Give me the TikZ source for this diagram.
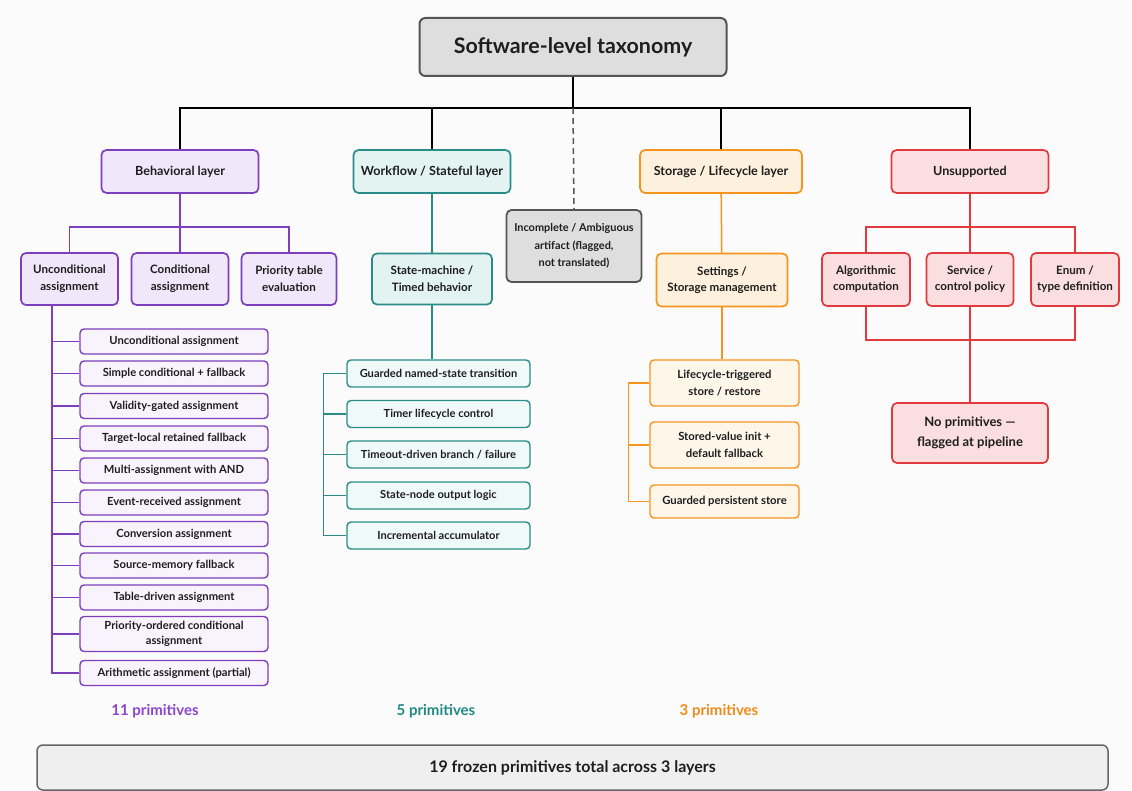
\documentclass[tikz,border=0pt]{standalone}
\usepackage{fontspec}
\setmainfont{Lato Bold}[BoldFont={Lato Bold}]
\usetikzlibrary{calc}

\definecolor{ink}{HTML}{1E1E1E}
\definecolor{bg}{HTML}{FBFBFB}
\definecolor{purp}{HTML}{7E3FBF}
\definecolor{purpfill}{HTML}{F1E7FB}
\definecolor{purpitem}{HTML}{F8F3FD}
\definecolor{purptext}{HTML}{8A44D0}
\definecolor{teal}{HTML}{2A8C88}
\definecolor{tealfill}{HTML}{E2F3F1}
\definecolor{tealitem}{HTML}{EFF9F7}
\definecolor{tealtext}{HTML}{1F8A84}
\definecolor{orng}{HTML}{F7941D}
\definecolor{orngfill}{HTML}{FDF0DC}
\definecolor{orngitem}{HTML}{FFF6EA}
\definecolor{orngtext}{HTML}{F28A1A}
\definecolor{redd}{HTML}{E03A3E}
\definecolor{reddfill}{HTML}{FBDEDF}
\definecolor{grayline}{HTML}{555555}
\definecolor{grayfill}{HTML}{DEDEDE}
\definecolor{totfill}{HTML}{EFEFEF}

\tikzset{
  x=1pt, y=-1pt,
  sz/.style 2 args={minimum width=#1pt, minimum height=#2pt},
  box/.style={draw, rounded corners=5pt, line width=1.7pt, align=center,
    inner sep=2pt, text=ink, font=\fontsize{11.6}{17}\selectfont},
  layerbox/.style={box, font=\fontsize{12.6}{16}\selectfont},
  itembox/.style={box, line width=1.4pt, rounded corners=4pt,
    font=\fontsize{11.1}{15}\selectfont},
  behbox/.style={layerbox, draw=purp, fill=purpfill},
  behsub/.style={box, draw=purp, fill=purpfill},
  behitem/.style={itembox, draw=purp, fill=purpitem, sz={188}{25},
    font=\fontsize{11.2}{15.5}\selectfont},
  wfbox/.style={layerbox, draw=teal, fill=tealfill},
  wfsub/.style={box, draw=teal, fill=tealfill},
  wfitem/.style={itembox, draw=teal, fill=tealitem, sz={183}{27}},
  stbox/.style={layerbox, draw=orng, fill=orngfill},
  stsub/.style={box, draw=orng, fill=orngfill, font=\fontsize{11.6}{16.5}\selectfont},
  stitem/.style={itembox, draw=orng, fill=orngitem,
    font=\fontsize{11.3}{17}\selectfont},
  unbox/.style={layerbox, draw=redd, fill=reddfill},
  unsub/.style={box, draw=redd, fill=reddfill, font=\fontsize{11.6}{16}\selectfont},
  conn/.style={line width=1.5pt},
  count/.style={font=\fontsize{15}{18}\selectfont},
}

\begin{document}
\begin{tikzpicture}
% canvas
\fill[bg] (0,0) rectangle (1132,791);
\useasboundingbox (0,0) rectangle (1132,791);

% root
\node[box, draw=grayline, fill=grayfill, line width=2pt, rounded corners=6pt,
  sz={307}{58}, font=\fontsize{21.4}{24}\selectfont] (title) at (573,47)
  {Software-level taxonomy};

% layers
\node[behbox, sz={157}{43}] (beh) at (180,171.5) {Behavioral layer};
\node[wfbox, sz={157}{43}] (wf) at (432,171.5) {Workflow / Stateful layer};
\node[stbox, sz={162}{43}] (st) at (721,171.5) {Storage / Lifecycle layer};
\node[unbox, sz={157}{43}] (un) at (970,171.5) {Unsupported};
\node[box, draw=grayline, fill=grayfill, line width=1.8pt, sz={135}{72},
  font=\fontsize{10.9}{17.5}\selectfont] (inc) at (574,246)
  {Incomplete / Ambiguous\\artifact (flagged,\\not translated)};

% root connectors
\draw[conn] (title.south) -- ++(0,31) coordinate (bus);
\draw[conn] (bus) -| (beh.north);
\draw[conn] (bus) -| (wf.north);
\draw[conn] (bus) -| (st.north);
\draw[conn] (bus) -| (un.north);
\draw[conn, dashed, dash pattern=on 6pt off 4pt, grayline] (bus) -- (inc.north);

% behavioral layer
\node[behsub, sz={97}{52}] (bu) at (69.5,279) {Unconditional\\assignment};
\node[behsub, sz={97}{52}] (bc) at (180,279) {Conditional\\assignment};
\node[behsub, sz={95}{52}] (bp) at (289,279) {Priority table\\evaluation};
\draw[conn, purp] (beh.south) -- ++(0,33) coordinate (bb);
\draw[conn, purp] (bb) -| (bu.north);
\draw[conn, purp] (bb) -- (bc.north);
\draw[conn, purp] (bb) -| (bp.north);

\node[behitem] (b1) at (174,341.5) {Unconditional assignment};
\node[behitem] (b2) at (174,373.5) {Simple conditional + fallback};
\node[behitem] (b3) at (174,406) {Validity-gated assignment};
\node[behitem] (b4) at (174,438.5) {Target-local retained fallback};
\node[behitem] (b5) at (174,470.5) {Multi-assignment with AND};
\node[behitem] (b6) at (174,502.5) {Event-received assignment};
\node[behitem] (b7) at (174,534) {Conversion assignment};
\node[behitem] (b8) at (174,565.5) {Source-memory fallback};
\node[behitem] (b9) at (174,597.5) {Table-driven assignment};
\node[behitem, sz={188}{35}] (b10) at (174,634) {Priority-ordered conditional\\assignment};
\node[behitem] (b11) at (174,673) {Arithmetic assignment (partial)};
\foreach \i in {1,...,11}{
  \draw[conn, purp] ([xshift=-17.5pt]bu.south) |- (b\i.west);
}

% workflow layer
\node[wfsub, sz={120}{51}] (sm) at (432,279) {State-machine /\\Timed behavior};
\draw[conn, teal] (wf) -- (sm);
\node[wfitem] (w1) at (438.5,373.5) {Guarded named-state transition};
\node[wfitem] (w2) at (438.5,414) {Timer lifecycle control};
\node[wfitem] (w3) at (438.5,454.5) {Timeout-driven branch / failure};
\node[wfitem] (w4) at (438.5,495.5) {State-node output logic};
\node[wfitem] (w5) at (438.5,535.5) {Incremental accumulator};
\draw[conn, teal] (sm.south) -- (sm.south |- w1.north);
\draw[conn, teal] (w1.west) -- ++(-23,0) coordinate (wsp) |- (w5.west);
\foreach \i in {2,3,4}{
  \draw[conn, teal] (wsp |- w\i.west) -- (w\i.west);
}

% storage layer
\node[stsub, sz={131}{53}] (set) at (722,280) {Settings /\\Storage management};
\draw[conn, orng] (st) -- (set);
\node[stitem, sz={149}{46}] (s1) at (724.5,383) {Lifecycle-triggered\\store / restore};
\node[stitem, sz={149}{46}] (s2) at (724.5,445) {Stored-value init +\\default fallback};
\node[stitem, sz={149}{33}] (s3) at (724.5,501.5) {Guarded persistent store};
\draw[conn, orng] (set.south) -- (set.south |- s1.north);
\draw[conn, orng] (s1.west) -- ++(-21,0) coordinate (ssp) |- (s3.west);
\draw[conn, orng] (ssp |- s2.west) -- (s2.west);

% unsupported
\node[unsub, sz={88}{53}] (alg) at (866,279.5) {Algorithmic\\computation};
\node[unsub, sz={87}{53}] (svc) at (970,279.5) {Service /\\control policy};
\node[unsub, sz={88}{53}] (enm) at (1075,279.5) {Enum /\\type definition};
\draw[conn, redd] (un.south) -- ++(0,33) coordinate (ub);
\draw[conn, redd] (ub) -| (alg.north);
\draw[conn, redd] (ub) -- (svc.north);
\draw[conn, redd] (ub) -| (enm.north);
\node[unsub, sz={156}{60}, font=\fontsize{13}{20}\selectfont] (nop) at (970,433)
  {No primitives ---\\flagged at pipeline};
\draw[conn, redd] (alg.south) -- ++(0,33) -| (enm.south);
\draw[conn, redd] (svc.south) -- (nop.north);

% counts
\node[count, text=purptext] (cb) at (155,711.5) {11 primitives};
\node[count, text=tealtext] (cw) at (436,711.5) {5 primitives};
\node[count, text=orngtext] (cs) at (719,711.5) {3 primitives};

% total
\node[box, draw=gray!80!black, fill=totfill, line width=1.5pt, rounded corners=6pt,
  sz={1071}{45}, font=\fontsize{16}{19}\selectfont] (tot) at (572.5,767.5)
  {19 frozen primitives total across 3 layers};
\end{tikzpicture}
\end{document}
